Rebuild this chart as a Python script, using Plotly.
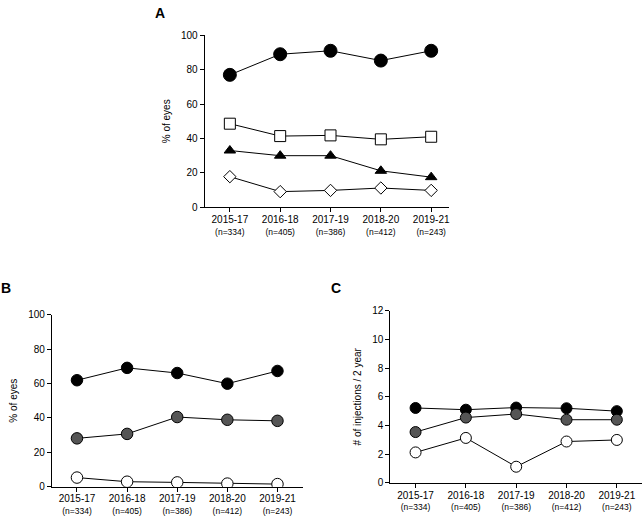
import plotly.graph_objects as go

periods = ["2015-17", "2016-18", "2017-19", "2018-20", "2019-21"]
n_labels = ["(n=334)", "(n=405)", "(n=386)", "(n=412)", "(n=243)"]

# Panel A (% of eyes)
a_circle = [77, 89, 91, 85.3, 91]
a_square = [48.6, 41.4, 41.8, 39.5, 41]
a_triangle = [33, 30, 30, 21.2, 17.5]
a_diamond = [17.8, 9.1, 9.8, 11.2, 9.8]

# Panel B (% of eyes)
b_black = [61.9, 69.1, 66.1, 59.9, 67.3]
b_grey = [28.1, 30.7, 40.5, 38.9, 38.3]
b_white = [5.3, 2.9, 2.5, 1.8, 1.5]

# Panel C (# of injections / 2 year)
c_black = [5.22, 5.1, 5.25, 5.2, 5.0]
c_grey = [3.54, 4.55, 4.8, 4.4, 4.4]
c_white = [2.12, 3.13, 1.12, 2.88, 2.99]

W, H = 644, 522
FONT = "Liberation Sans, Arial, sans-serif"
GREY = "#555555"

xi = list(range(len(periods)))
ticktext = [f"<span style='font-size:10px'>{p}</span><br><span style='font-size:8.5px'>{n}</span>"
            for p, n in zip(periods, n_labels)]

fig = go.Figure()

def add(vals, xa, ya, symbol, fill, size):
    fig.add_trace(go.Scatter(
        x=xi, y=vals, xaxis=xa, yaxis=ya, mode="lines+markers",
        line=dict(color="black", width=1),
        marker=dict(symbol=symbol, size=size, color=fill,
                    line=dict(color="black", width=1)),
        showlegend=False, hoverinfo="skip"))

add(a_circle, "x", "y", "circle", "black", 13)
add(a_square, "x", "y", "square", "white", 11)
add(a_triangle, "x", "y", "triangle-up", "black", 10)
add(a_diamond, "x", "y", "diamond", "white", 9.5)

add(b_black, "x2", "y2", "circle", "black", 11.5)
add(b_grey, "x2", "y2", "circle", GREY, 11.5)
add(b_white, "x2", "y2", "circle", "white", 11.5)

add(c_black, "x3", "y3", "circle", "black", 11)
add(c_grey, "x3", "y3", "circle", GREY, 11)
add(c_white, "x3", "y3", "circle", "white", 11)

def px_x(p):
    return p / W

def px_y(p):
    return 1 - p / H

common_x = dict(showline=True, linecolor="black", linewidth=1, ticks="outside",
                ticklen=4, tickcolor="black", tickwidth=1, showgrid=False,
                zeroline=False, tickmode="array", tickvals=xi, ticktext=ticktext,
                tickfont=dict(family=FONT, size=9, color="black"))
common_y = dict(showline=True, linecolor="black", linewidth=1, ticks="outside",
                ticklen=4, tickcolor="black", tickwidth=1, showgrid=False,
                zeroline=False, tickfont=dict(family=FONT, size=10, color="black"))

TITLE_FONT = dict(family=FONT, size=10, color="black")

fig.update_layout(
    width=W, height=H, margin=dict(l=0, r=0, t=0, b=0),
    plot_bgcolor="white", paper_bgcolor="white",
    font=dict(family=FONT, color="black"),
    xaxis=dict(domain=[px_x(205), px_x(450)], range=[-0.5, 4.36], anchor="y", **common_x),
    yaxis=dict(domain=[px_y(206), px_y(30)], range=[0, 100], anchor="x",
               tickvals=[0, 20, 40, 60, 80, 100],
               title=dict(text="% of eyes", font=TITLE_FONT, standoff=8), **common_y),
    xaxis2=dict(domain=[px_x(52), px_x(303)], range=[-0.5, 4.5], anchor="y2", **common_x),
    yaxis2=dict(domain=[px_y(492), px_y(316)], range=[0, 100], anchor="x2",
                tickvals=[0, 20, 40, 60, 80, 100],
                title=dict(text="% of eyes", font=TITLE_FONT, standoff=8), **common_y),
    xaxis3=dict(domain=[px_x(391), px_x(643)], range=[-0.5, 4.5], anchor="y3", **common_x),
    yaxis3=dict(domain=[px_y(488), px_y(312)], range=[0, 12], anchor="x3",
                tickvals=[0, 2, 4, 6, 8, 10, 12],
                title=dict(text="# of injections / 2 year", font=TITLE_FONT, standoff=8), **common_y),
)

for txt, x, y in [("A", 160, 7), ("B", 6, 289), ("C", 337, 289)]:
    fig.add_annotation(text=f"<b>{txt}</b>", x=px_x(x), y=px_y(y), xref="paper", yref="paper",
                       showarrow=False, xanchor="center", yanchor="middle",
                       font=dict(family=FONT, size=14, color="black"))

fig.write_html("out.html", config={"displayModeBar": False},
               post_script="document.body.style.margin='0';document.body.style.overflow='hidden';")
